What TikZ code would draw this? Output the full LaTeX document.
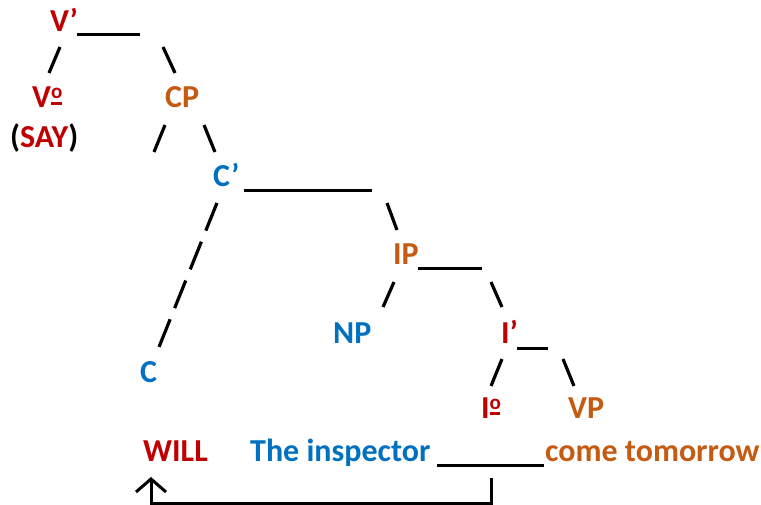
\documentclass[tikz,border=0pt]{standalone}
\usepackage{fontspec}
\setmainfont{Carlito}
\usetikzlibrary{arrows.meta}
\definecolor{tred}{HTML}{C00000}
\definecolor{torange}{HTML}{C55A11}
\definecolor{tblue}{HTML}{0070C0}
\newcommand{\ordm}{\makebox[0pt][l]{\rule[3pt]{10.5pt}{2.8pt}}%
  \raisebox{9pt}{\fontsize{21}{21}\selectfont o}}

\begin{document}
\begin{tikzpicture}[x=1pt, y=-1pt,
    lab/.style={anchor=base west, inner sep=0pt, font=\fontsize{32}{38}\selectfont\bfseries},
    branch/.style={line width=3.2pt},
    rule/.style={line width=3pt},
    move/.style={line width=3pt, -{Straight Barb[length=13pt, width=30pt]}}]
\useasboundingbox (0,0) rectangle (761,505);

\node[lab, tred] (vbar) at (50, 32) {V’};
\node[lab, tred] (v0) at (32, 108) {V\ordm};
\node[lab] (say) at (10, 148) {(\textcolor{tred}{SAY})};
\node[lab, torange] (cp) at (165, 108) {CP};
\node[lab, tblue] (cbar) at (213, 187) {C’};
\node[lab, tblue] (c) at (140, 382) {C};
\node[lab, torange] (ip) at (393, 265) {IP};
\node[lab, tblue] (np) at (333, 343) {NP};
\node[lab, tred] (ibar) at (501, 343) {I’};
\node[lab, tred] (i0) at (481, 418) {I\ordm};
\node[lab, torange] (vp) at (568, 418) {VP};
\node[lab, tred] (will) at (143, 461) {WILL};
\node[lab, tblue] (insp) at (250, 461) {The inspector};
\node[lab, torange] (come) at (545, 461) {come tomorrow};
\coordinate (trace) at (437, 465);
\coordinate (gap) at (491, 478);
\coordinate (up) at (151, 477);

\draw[branch, shorten <=16.3pt, shorten >=38pt]
    ([xshift=16.3pt]vbar.base west) -- ([xshift=2.2pt]v0.base west);
\draw[branch, shorten <=16.5pt, shorten >=38.5pt]
    ([xshift=106.1pt]vbar.base west) -- ([xshift=26.2pt]cp.base west);
\draw[branch] (cp.base west) ++(0,17) -- ++(-11,27);
\draw[branch, shorten <=18.4pt, shorten >=37.8pt]
    ([xshift=32.1pt]cp.base west) -- ([xshift=16.2pt]cbar.base west);
\draw[branch, dash pattern=on 29.8pt off 12pt, shorten <=17.2pt, shorten >=37.7pt]
    ([xshift=10.4pt]cbar.base west) -- ([xshift=4.9pt]c.base west);
\draw[branch, shorten <=17.1pt, shorten >=37.3pt]
    ([xshift=168.1pt]cbar.base west) -- ([xshift=16.9pt]ip.base west);
\draw[branch, shorten <=18.6pt, shorten >=39.3pt]
    ([xshift=8.5pt]ip.base west) -- ([xshift=34.2pt]np.base west);
\draw[branch, shorten <=18.6pt, shorten >=39.3pt]
    ([xshift=90.5pt]ip.base west) -- ([xshift=16.8pt]ibar.base west);
\draw[branch, shorten <=17.3pt, shorten >=34.6pt]
    ([xshift=7.5pt]ibar.base west) -- ([xshift=-3pt]i0.base west);
\draw[branch, shorten <=17.3pt, shorten >=34.6pt]
    ([xshift=55.5pt]ibar.base west) -- ([xshift=19pt]vp.base west);

\draw[rule] (vbar.base west) ++(27,2.5) -- ++(63,0);
\draw[rule] (cbar.base west) ++(31,4) -- ++(128,0);
\draw[rule] (ip.base west) ++(25,4) -- ++(64,0);
\draw[rule] (ibar.base west) ++(16,5) -- ++(31,0);
\draw[rule] (trace) -- ++(107,0);
\draw[move] (gap) -- ++(0,25) -| (up);
\end{tikzpicture}
\end{document}
